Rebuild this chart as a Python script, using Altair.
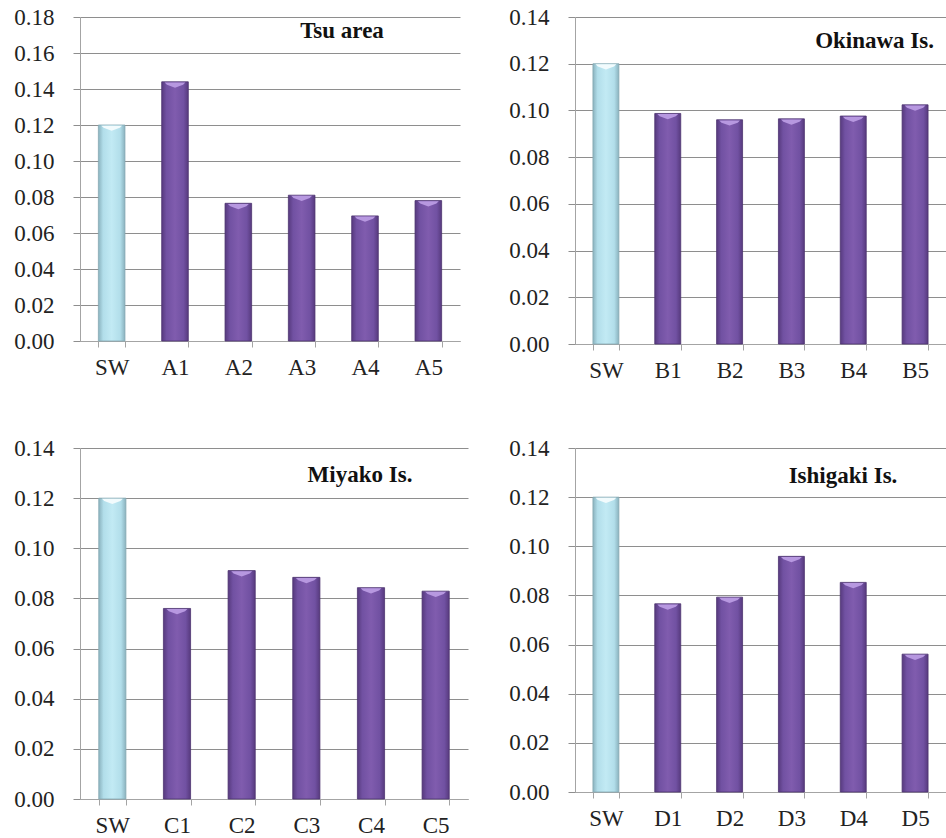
import altair as alt
import pandas as pd

# Sites and measured values for each area (SW = seawater reference)
sites_a = ["SW", "A1", "A2", "A3", "A4", "A5"]
values_a = [0.120, 0.144, 0.0765, 0.081, 0.0695, 0.078]

sites_b = ["SW", "B1", "B2", "B3", "B4", "B5"]
values_b = [0.120, 0.0987, 0.0960, 0.0964, 0.0976, 0.1024]

sites_c = ["SW", "C1", "C2", "C3", "C4", "C5"]
values_c = [0.120, 0.0760, 0.0911, 0.0884, 0.0843, 0.0829]

sites_d = ["SW", "D1", "D2", "D3", "D4", "D5"]
values_d = [0.120, 0.0766, 0.0793, 0.0959, 0.0853, 0.0561]

ticks_018 = [0.00, 0.02, 0.04, 0.06, 0.08, 0.10, 0.12, 0.14, 0.16, 0.18]
ticks_014 = [0.00, 0.02, 0.04, 0.06, 0.08, 0.10, 0.12, 0.14]

areas = ["Tsu area", "Okinawa Is.", "Miyako Is.", "Ishigaki Is."]

FONT = "Times New Roman, Liberation Serif, DejaVu Serif, serif"
GRID = "#8e8e8e"
AXIS = "#a4a4a4"

# Cylinder-like shading across each bar
PURPLE = {
    "gradient": "linear", "x1": 0, "x2": 1, "y1": 0, "y2": 0,
    "stops": [
        {"offset": 0.0, "color": "#573a7e"},
        {"offset": 0.18, "color": "#7151a2"},
        {"offset": 0.5, "color": "#805cae"},
        {"offset": 0.82, "color": "#7151a2"},
        {"offset": 1.0, "color": "#573a7e"},
    ],
}
BLUE = {
    "gradient": "linear", "x1": 0, "x2": 1, "y1": 0, "y2": 0,
    "stops": [
        {"offset": 0.0, "color": "#8ab2be"},
        {"offset": 0.18, "color": "#b2deea"},
        {"offset": 0.5, "color": "#c2eaf4"},
        {"offset": 0.82, "color": "#b2deea"},
        {"offset": 1.0, "color": "#8ab2be"},
    ],
}

# Light chevron drawn on top of each bar (anchored at the bar's top edge)
CAP = "M-0.8,0.05 L0.8,0.05 L0.62,0.22 L0,0.45 L-0.62,0.22 Z"


def panel(sites, values, ymax, ticks, name, tx, ty, talign, w, h):
    df = pd.DataFrame({"site": sites, "value": values})
    x = alt.X(
        "site:N", sort=sites, title=None,
        scale=alt.Scale(paddingInner=0.58, paddingOuter=0.29),
        axis=alt.Axis(
            labelAngle=0, tickBand="extent", tickSize=6, labelPadding=9,
            domainColor=AXIS, tickColor=AXIS, grid=False,
            labelFont=FONT, labelFontSize=23, labelColor="#222",
        ),
    )
    y = alt.Y(
        "value:Q", title=None,
        scale=alt.Scale(domain=[0, ymax], nice=False, zero=True),
        axis=alt.Axis(
            values=ticks, format=".2f", tickSize=7, labelPadding=19,
            grid=True, gridColor=GRID, tickColor=GRID, domainColor=AXIS,
            labelFont=FONT, labelFontSize=23, labelColor="#222",
        ),
    )
    base = alt.Chart(df).encode(x=x, y=y)
    sw = base.mark_bar(color=BLUE, stroke="#86aab4", strokeWidth=0.8).transform_filter(
        alt.datum.site == "SW"
    )
    rest = base.mark_bar(color=PURPLE, stroke="#4d3370", strokeWidth=0.8).transform_filter(
        alt.datum.site != "SW"
    )
    caps = base.mark_point(shape=CAP, size=676, filled=True, opacity=1, strokeWidth=0).encode(
        color=alt.condition(alt.datum.site == "SW", alt.value("#f2fbfd"), alt.value("#b798e0"))
    )
    label = alt.Chart(pd.DataFrame({"t": [name]})).mark_text(
        font=FONT, fontSize=23, fontWeight="bold", color="#111",
        align=talign, baseline="middle",
    ).encode(x=alt.value(tx), y=alt.value(ty), text="t:N")
    return alt.layer(sw, rest, caps, label).properties(width=w, height=h)


p1 = panel(sites_a, values_a, 0.18, ticks_018, areas[0], 262, 14, "center", 380, 324)
p2 = panel(sites_b, values_b, 0.14, ticks_014, areas[1], 359, 24, "right", 371, 327)
p3 = panel(sites_c, values_c, 0.14, ticks_014, areas[2], 280, 27, "center", 388, 351)
p4 = panel(sites_d, values_d, 0.14, ticks_014, areas[3], 268, 28, "center", 371, 344)

chart = alt.vconcat(
    alt.hconcat(p1, p2, spacing=48),
    alt.hconcat(p3, p4, spacing=40),
    spacing=55,
).properties(
    padding={"left": 13, "top": 6, "right": 0, "bottom": 0},
).configure_view(stroke=None)

chart.save("out.html", embed_options={"renderer": "svg", "actions": False})
